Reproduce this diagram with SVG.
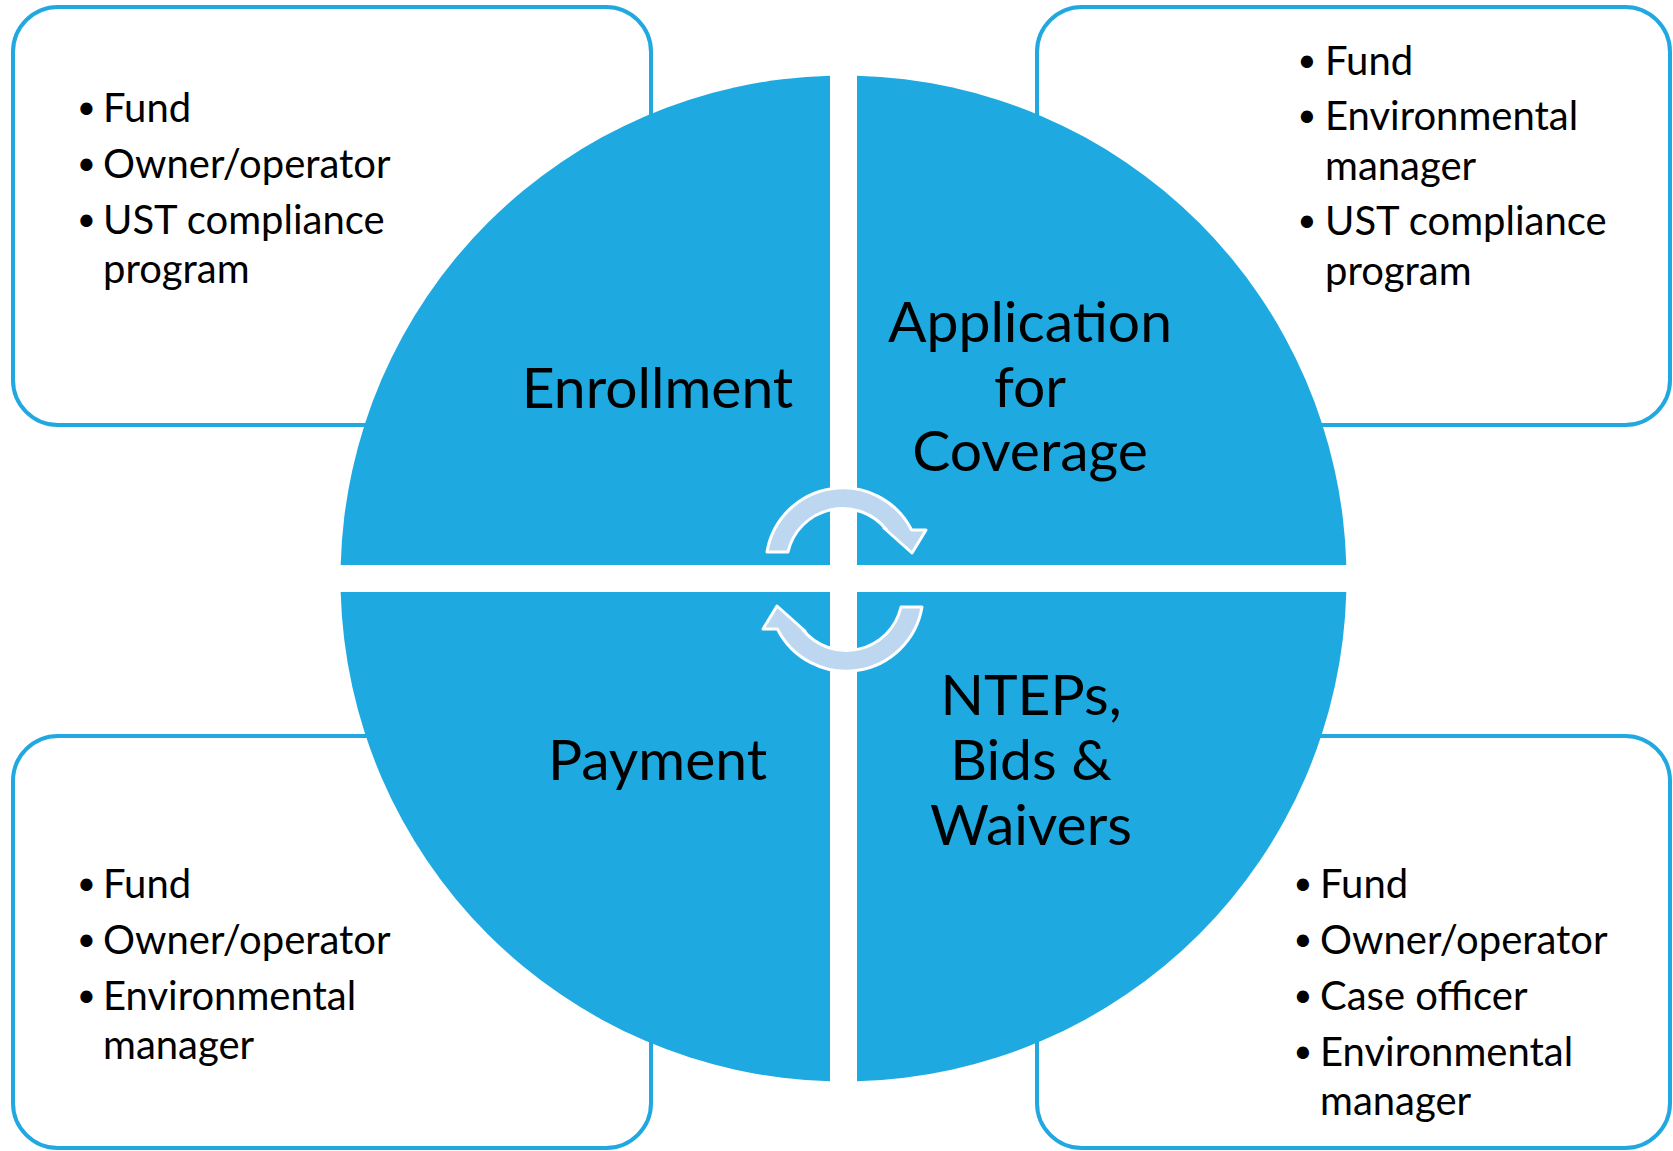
<svg xmlns="http://www.w3.org/2000/svg" width="1673" height="1151" viewBox="0 0 1673 1151">
<defs>
<style>
.box{fill:#ffffff;stroke:#22a8e0;stroke-width:4}
.quad{fill:#1eaae1}
.lbl{font-family:Lato,"Open Sans","Liberation Sans",sans-serif;font-size:57px;fill:#000;text-anchor:middle}
.li{font-family:Lato,"Open Sans","Liberation Sans",sans-serif;font-size:40px;fill:#000}
.bul{font-family:"DejaVu Sans",sans-serif;font-size:42px;text-anchor:middle}
.arr{fill:#bcd7ef;stroke:#ffffff;stroke-width:3;stroke-linejoin:round}
</style>
<path id="carrow" d="M767,552 A77,77 0 0 1 911.6,530 L926,530 L912,553 L884,528 L886.7,530 A56,56 0 0 0 788,552 Z"/>
</defs>
<rect width="1673" height="1151" fill="#ffffff"/>
<g id="box-tl"><rect class="box" x="13" y="7" width="638" height="418" rx="45"/></g>
<g id="box-tr"><rect class="box" x="1037" y="7" width="633" height="418" rx="45"/></g>
<g id="box-bl"><rect class="box" x="13" y="736" width="638" height="412" rx="45"/></g>
<g id="box-br"><rect class="box" x="1037" y="736" width="633" height="412" rx="45"/></g>
<g id="enrollment">
<path class="quad" d="M830,565 L340.68,565 A503,503 0 0 1 830,75.68 Z"/>
<text class="lbl" x="657.5" y="408">Enrollment</text>
</g>
<g id="application">
<path class="quad" d="M857,565 L857,75.68 A503,503 0 0 1 1346.32,565 Z"/>
<text class="lbl" x="1030" y="342">Application</text>
<text class="lbl" x="1030" y="406.5">for</text>
<text class="lbl" x="1030" y="471">Coverage</text>
</g>
<g id="ntePs">
<path class="quad" d="M857,592 L1346.32,592 A503,503 0 0 1 857,1081.32 Z"/>
<text class="lbl" x="1031" y="715">NTEPs,</text>
<text class="lbl" x="1031" y="780">Bids &amp;</text>
<text class="lbl" x="1031" y="845">Waivers</text>
</g>
<g id="payment">
<path class="quad" d="M830,592 L830,1081.32 A503,503 0 0 1 340.68,592 Z"/>
<text class="lbl" x="657.5" y="780">Payment</text>
</g>
<g id="list-tl">
<text class="li" y="122"><tspan class="bul" x="86.5" dy="3">•</tspan><tspan x="103" dy="-3">Fund</tspan></text>
<text class="li" y="178"><tspan class="bul" x="86.5" dy="3">•</tspan><tspan x="103" dy="-3">Owner/operator</tspan></text>
<text class="li" y="234"><tspan class="bul" x="86.5" dy="3">•</tspan><tspan x="103" dy="-3">UST compliance</tspan></text>
<text class="li" x="103" y="283">program</text>
</g>
<g id="list-tr">
<text class="li" y="75"><tspan class="bul" x="1307" dy="3">•</tspan><tspan x="1325" dy="-3">Fund</tspan></text>
<text class="li" y="130"><tspan class="bul" x="1307" dy="3">•</tspan><tspan x="1325" dy="-3">Environmental</tspan></text>
<text class="li" x="1325" y="180">manager</text>
<text class="li" y="235"><tspan class="bul" x="1307" dy="3">•</tspan><tspan x="1325" dy="-3">UST compliance</tspan></text>
<text class="li" x="1325" y="285">program</text>
</g>
<g id="list-bl">
<text class="li" y="898"><tspan class="bul" x="86.5" dy="3">•</tspan><tspan x="103" dy="-3">Fund</tspan></text>
<text class="li" y="954"><tspan class="bul" x="86.5" dy="3">•</tspan><tspan x="103" dy="-3">Owner/operator</tspan></text>
<text class="li" y="1010"><tspan class="bul" x="86.5" dy="3">•</tspan><tspan x="103" dy="-3">Environmental</tspan></text>
<text class="li" x="103" y="1059">manager</text>
</g>
<g id="list-br">
<text class="li" y="898"><tspan class="bul" x="1303" dy="3">•</tspan><tspan x="1320" dy="-3">Fund</tspan></text>
<text class="li" y="954"><tspan class="bul" x="1303" dy="3">•</tspan><tspan x="1320" dy="-3">Owner/operator</tspan></text>
<text class="li" y="1010"><tspan class="bul" x="1303" dy="3">•</tspan><tspan x="1320" dy="-3">Case officer</tspan></text>
<text class="li" y="1066"><tspan class="bul" x="1303" dy="3">•</tspan><tspan x="1320" dy="-3">Environmental</tspan></text>
<text class="li" x="1320" y="1115">manager</text>
</g>
<g id="connectors">
<use href="#carrow" class="arr"/>
<use href="#carrow" class="arr" transform="rotate(180 844.5 579.5)"/>
</g>
</svg>
